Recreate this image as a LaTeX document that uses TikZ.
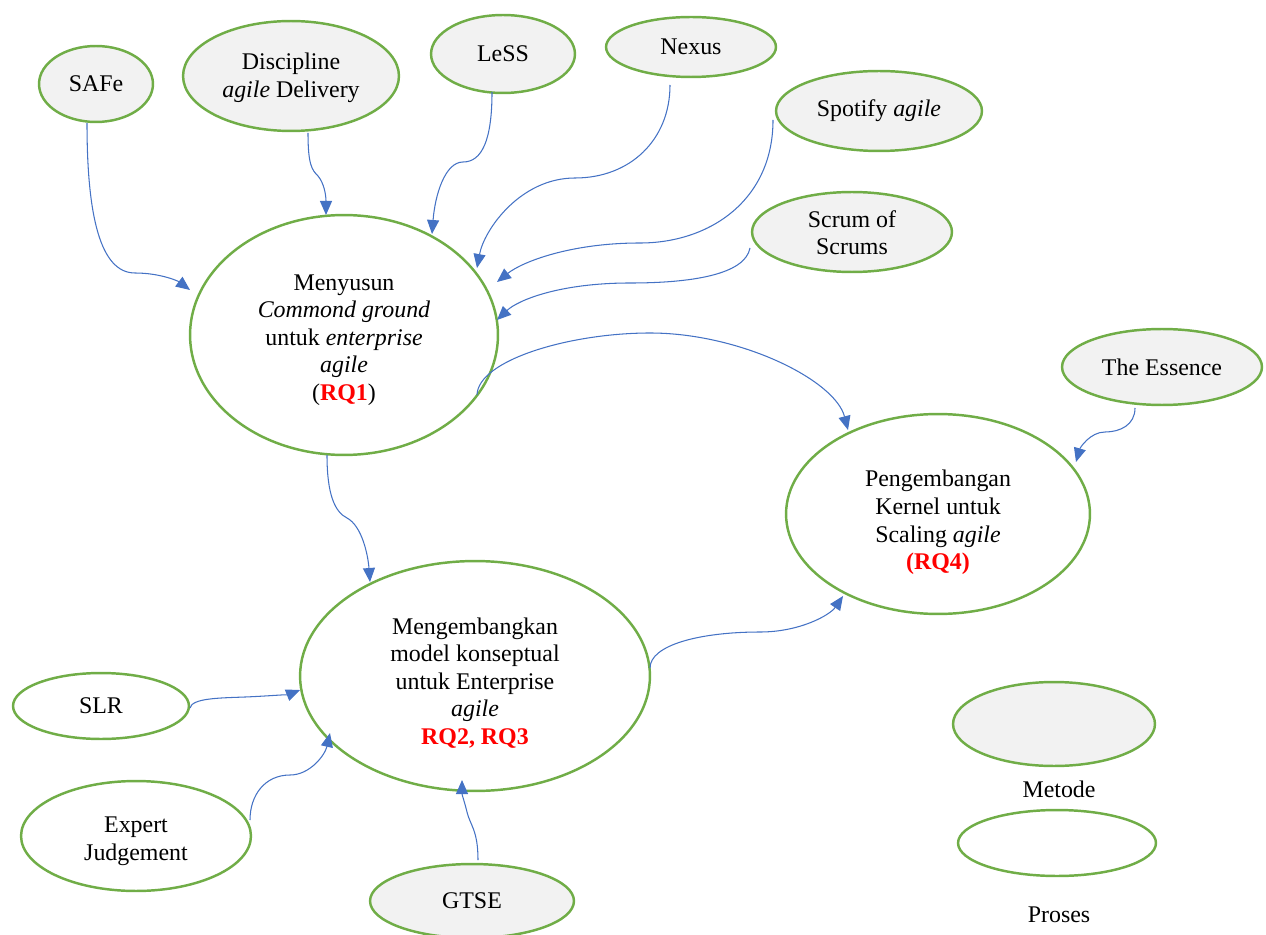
\documentclass[tikz,border=0pt]{standalone}
\usepackage{fontspec}
\setmainfont{Liberation Serif}
\usetikzlibrary{shapes.geometric,arrows.meta,calc}
\definecolor{ringgreen}{HTML}{70AD47}
\definecolor{linkblue}{HTML}{4472C4}
\definecolor{methodfill}{HTML}{F2F2F2}
\definecolor{rqred}{HTML}{FF0000}
\newcommand{\rqmark}[1]{\textcolor{rqred}{\textbf{#1}}}
% a taller first line pushes a multi-line label a little lower in its ellipse
\newcommand{\firstline}[1]{\rule{0pt}{#1}}

\begin{document}
\begin{tikzpicture}[x=0.02cm,y=-0.02cm,
  bubble/.style={ellipse, draw=ringgreen, line width=1.4pt, inner sep=0pt,
    align=center, font=\fontsize{13.6}{15.7}\selectfont},
  method/.style={bubble, fill=methodfill},
  process/.style={bubble, fill=white},
  sz/.style 2 args={minimum width={#1*0.04cm}, minimum height={#2*0.04cm}},
  caption/.style={inner sep=0pt, font=\fontsize{13.6}{15.7}\selectfont},
  link/.style={draw=linkblue, line width=0.6pt,
    -{Triangle[length=0.28cm,width=0.24cm]}},
]
\useasboundingbox (0,0) rectangle (1266,935);

% scaling frameworks and other methods
\node[method, sz={57}{38}]  (safe)    at (96,84)   {SAFe};
\node[method, sz={108}{55}] (dad)     at (291,76)  {\firstline{11.6pt}Discipline\\\textit{agile} Delivery};
\node[method, sz={72}{39}]  (less)    at (503,54)  {LeSS};
\node[method, sz={85}{30}]  (nexus)   at (691,47)  {Nexus};
\node[method, sz={103}{40}] (spotify) at (879,111) {Spotify \textit{agile}};
\node[method, sz={100}{40}] (sos)     at (852,232) {\firstline{10.5pt}Scrum of\\Scrums};
\node[method, sz={100}{38}] (essence) at (1162,367) {The Essence};
\node[method, sz={102}{37}] (gtse)    at (472,901) {GTSE};

% research processes
\node[process, sz={154}{120}] (rq1) at (344,335)
  {\firstline{14.7pt}Menyusun\\\textit{Commond ground}\\untuk \textit{enterprise}\\\textit{agile}\\(\rqmark{RQ1})};
\node[process, sz={152}{100}] (rq4) at (938,514)
  {\firstline{19.2pt}Pengembangan\\Kernel untuk\\Scaling \textit{agile}\\\rqmark{(RQ4)}};
\node[process, sz={175}{115}] (rq23) at (475,676)
  {\firstline{17.3pt}Mengembangkan\\model konseptual\\untuk Enterprise\\\textit{agile}\\\rqmark{RQ2, RQ3}};
\node[process, sz={88}{33}]  (slr)    at (101,706) {SLR};
\node[process, sz={115}{55}] (expert) at (136,836) {\firstline{14.7pt}Expert\\Judgement};

% legend
\node[method, sz={101}{42}]  (legmethod)  at (1054,724) {};
\node[caption]               (legmethodt) at (1059,789) {Metode};
\node[process, sz={99}{33}]  (legproc)    at (1057,843) {};
\node[caption]               (legproct)   at (1059,915) {Proses};

% inputs to the common ground
\draw[link] ($(safe)+(-9,39)$) .. controls (87,215) and (100,273) .. (135,273)
  .. controls (160,273) and (178,281) .. ($(rq1)+(-154,-45)$);
\draw[link] ($(dad)+(17,57)$) .. controls (308,165) and (312,170) .. (318,176)
  .. controls (324,183) and (326,195) .. ($(rq1)+(-18,-120)$);
\draw[link] ($(less)+(-11,38)$) .. controls (492,140) and (482,162) .. (463,162)
  .. controls (445,162) and (435,195) .. ($(rq1)+(88,-101)$);
\draw[link] ($(nexus)+(-21,38)$) .. controls (670,140) and (630,178) .. (575,178)
  .. controls (520,178) and (484,230) .. ($(rq1)+(133,-67)$);
\draw[link] ($(spotify)+(-106,9)$) .. controls (773,200) and (710,243) .. (640,243)
  .. controls (570,243) and (522,262) .. ($(rq1)+(153,-53)$);
\draw[link] ($(sos)+(-102,16)$) .. controls (745,275) and (690,283) .. (630,283)
  .. controls (560,283) and (518,300) .. ($(rq1)+(153,-15)$);

% flow between the processes
\draw[link] ($(rq1)+(133,60)$) .. controls (478,360) and (570,333) .. (650,333)
  .. controls (740,333) and (835,380) .. ($(rq4)+(-90,-84)$);
\draw[link] ($(rq1)+(-17,120)$) .. controls (327,495) and (335,512) .. (347,518)
  .. controls (362,526) and (368,555) .. ($(rq23)+(-105,-94)$);
\draw[link] ($(rq23)+(175,-8)$) .. controls (650,645) and (700,632) .. (760,632)
  .. controls (800,632) and (830,615) .. ($(rq4)+(-95,82)$);
\draw[link] ($(essence)+(-27,41)$) .. controls (1135,425) and (1120,432) .. (1105,432)
  .. controls (1090,432) and (1080,448) .. ($(rq4)+(138,-52)$);

% inputs to the conceptual model
\draw[link] ($(slr)+(89,2)$) .. controls (192,698) and (220,698) .. (245,697)
  .. controls (270,696) and (290,694) .. ($(rq23)+(-175,14)$);
\draw[link] ($(expert)+(114,-16)$) .. controls (250,795) and (265,775) .. (290,775)
  .. controls (310,775) and (325,755) .. ($(rq23)+(-145,57)$);
\draw[link] ($(gtse)+(6,-41)$) .. controls (478,830) and (470,825) .. (467,812)
  .. controls (464,800) and (462,795) .. ($(rq23)+(-13,104)$);
\end{tikzpicture}
\end{document}
